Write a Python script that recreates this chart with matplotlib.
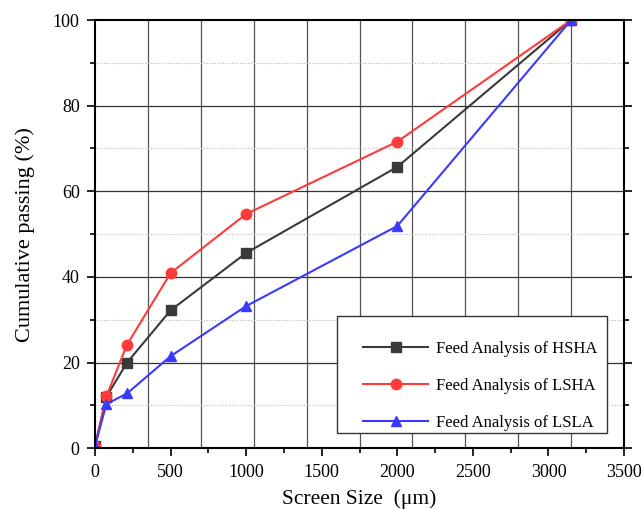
import numpy as np
import matplotlib
matplotlib.use("Agg")
import matplotlib.pyplot as plt
from matplotlib.ticker import MultipleLocator
from matplotlib.patches import Rectangle

plt.rcParams['font.family'] = ['Liberation Serif', 'DejaVu Serif']

# screen sizes (um) and cumulative passing (%)
sizes = [0, 75, 212, 500, 1000, 2000, 3150]
hsha = [0.5, 12.0, 20.0, 32.2, 45.6, 65.7, 100]
lsha = [0.5, 12.1, 24.2, 40.9, 54.7, 71.6, 100]
lsla = [0.5, 10.3, 12.8, 21.5, 33.2, 51.9, 100]
labels = ['Feed Analysis of HSHA', 'Feed Analysis of LSHA', 'Feed Analysis of LSLA']

fig = plt.figure(figsize=(6.44, 5.09), dpi=100)
ax = fig.add_axes([0.1475, 0.1193, 0.8215, 0.8414])

# Origin-style grid: vertical lines every 350, horizontal every 20, dotted minor every 10
for gx in np.arange(350, 3500, 350):
    ax.axvline(gx, color='#555555', lw=0.9, zorder=0)
for gy in np.arange(20, 100, 20):
    ax.axhline(gy, color='#333333', lw=0.9, zorder=0)
for gy in np.arange(10, 100, 20):
    ax.axhline(gy, color='#bbbbbb', lw=0.8, ls=(0, (1, 1.5)), zorder=0)

ax.plot(sizes, hsha, color='#3a3a3a', marker='s', ms=6.5, lw=1.5, label=labels[0])
ax.plot(sizes, lsha, color='#ff3a3a', marker='o', ms=7.5, lw=1.5, label=labels[1])
ax.plot(sizes, lsla, color='#3a3aff', marker='^', ms=7.5, lw=1.5, label=labels[2])

ax.set_xlim(0, 3500)
ax.set_ylim(0, 100)
ax.xaxis.set_major_locator(MultipleLocator(500))
ax.xaxis.set_minor_locator(MultipleLocator(250))
ax.yaxis.set_major_locator(MultipleLocator(20))
ax.yaxis.set_minor_locator(MultipleLocator(10))
ax.tick_params(which='both', direction='out', labelsize=13, width=1.2)
ax.tick_params(which='major', length=6, pad=5)
ax.tick_params(which='minor', length=3.5)
ax.tick_params(which='both', right=True, top=False)
for s in ax.spines.values():
    s.set_linewidth(1.5)

ax.set_xlabel('Screen Size  (\u03bcm)', fontsize=15.5, labelpad=6)
ax.set_ylabel('Cumulative passing (%)', fontsize=16, labelpad=13)

# legend box drawn separately: the original has uneven padding inside it
ax.add_patch(Rectangle((0.457, 0.036), 0.511, 0.273, transform=ax.transAxes,
                       facecolor='white', edgecolor='#333333', lw=1.0, zorder=4))
leg = ax.legend(loc='upper left', bbox_to_anchor=(0.5066, 0.25), fontsize=12,
                frameon=False, borderpad=0, borderaxespad=0,
                labelspacing=1.24, handlelength=3.9, handletextpad=0.45)
leg.set_zorder(5)

fig.savefig('out.png', dpi=100)
